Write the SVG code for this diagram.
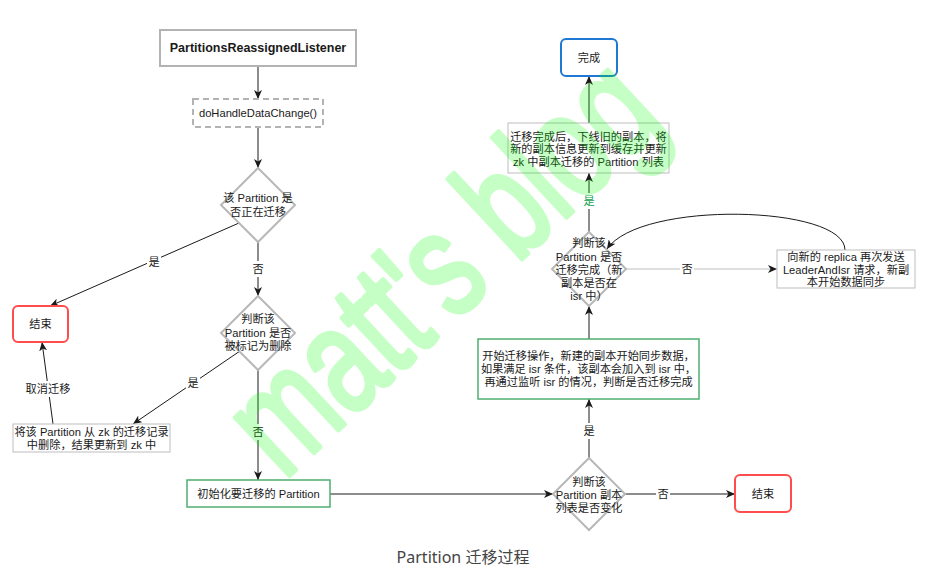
<svg xmlns="http://www.w3.org/2000/svg" width="946" height="588" viewBox="0 0 946 588">
<defs>
<style>
text{font-family:"Liberation Sans","Noto Sans CJK SC",sans-serif;font-size:11.2px;fill:#1a1a1a;text-anchor:middle;dominant-baseline:central}
.dia{fill:#fff;stroke:#b8b8b8;stroke-width:2}
.gbox{fill:#fff;stroke:#bdbdbd;stroke-width:1}
.green{fill:#fff;stroke:#4fae72;stroke-width:1.5}
.red{fill:#fff;stroke:#ff4c4c;stroke-width:2}
.blue{fill:#fff;stroke:#1f78d1;stroke-width:2}
.edge{fill:none;stroke:#1a1a1a;stroke-width:1;marker-end:url(#arr)}
.lbg{fill:#fff}
</style>
<marker id="arr" viewBox="0 0 10 8" refX="9" refY="4" markerWidth="10" markerHeight="8" markerUnits="userSpaceOnUse" orient="auto">
<path d="M0,0 L9,4 L0,8 L2.5,4 Z" fill="#1a1a1a"/>
</marker>
</defs>
<rect width="946" height="588" fill="#fff"/>

<g id="connectors">
<path class="edge" d="M258,66 L258,99"/>
<path class="edge" d="M258,127 L258,168"/>
<path class="edge" d="M258,242 L258,296"/>
<path class="edge" d="M239,223 L50,306"/>
<path class="edge" d="M240,351 L133,424"/>
<path class="edge" d="M258,370 L258,480"/>
<path class="edge" d="M53,424 L42,342"/>
<path class="edge" d="M330,494 L553,494"/>
<path class="edge" d="M625,494 L735,494"/>
<path class="edge" d="M589,458 L589,399"/>
<path class="edge" d="M589,339 L589,306"/>
<path class="edge" d="M626,269 L777,269" style="stroke:#bdbdbd"/>
<path class="edge" d="M845,250 C845,205 640,200 607,249"/>
<path class="edge" d="M589,232 L589,173"/>
<path class="edge" d="M589,123 L589,76"/>
<rect class="lbg" x="251" y="261" width="14" height="16"/><text x="258" y="269">否</text>
<rect class="lbg" x="147" y="254" width="14" height="16"/><text x="154" y="262">是</text>
<rect class="lbg" x="186" y="375" width="14" height="16"/><text x="193" y="383">是</text>
<rect class="lbg" x="251" y="424" width="14" height="16"/><text x="258" y="432">否</text>
<rect class="lbg" x="24" y="381" width="48" height="16"/><text x="48" y="389">取消迁移</text>
<rect class="lbg" x="656" y="486" width="14" height="16"/><text x="663" y="494">否</text>
<rect class="lbg" x="582" y="423" width="14" height="16"/><text x="589" y="431">是</text>
<rect class="lbg" x="680" y="261" width="14" height="16"/><text x="687" y="269">否</text>
<rect class="lbg" x="582" y="193" width="14" height="16"/><text x="589" y="201" style="fill:#12a150">是</text>
</g>

<g id="n-listener"><rect x="160" y="30" width="196" height="36" style="fill:#fff;stroke:#b3b3b3;stroke-width:2"/><text x="258" y="48" style="font-weight:bold;font-size:12.5px">PartitionsReassignedListener</text></g>
<g id="n-dohandle"><rect x="193" y="99" width="130" height="28" style="fill:#fff;stroke:#b3b3b3;stroke-width:2;stroke-dasharray:6 4"/><text x="258" y="113">doHandleDataChange()</text></g>
<g id="n-d1"><polygon class="dia" points="258,168 295,205 258,242 221,205"/><text x="258" y="198">该 Partition 是</text><text x="258" y="212">否正在迁移</text></g>
<g id="n-d2"><polygon class="dia" points="258,296 295,333 258,370 221,333"/><text x="258" y="319">判断该</text><text x="258" y="333">Partition 是否</text><text x="258" y="346">被标记为删除</text></g>
<g id="n-end1"><rect class="red" x="13" y="306" width="55" height="36" rx="5"/><text x="40.5" y="324">结束</text></g>
<g id="n-delete"><rect class="gbox" x="13" y="424" width="157" height="28"/><text x="91.5" y="432">将该 Partition 从 zk 的迁移记录</text><text x="91.5" y="445">中删除，结果更新到 zk 中</text></g>
<g id="n-init"><rect class="green" x="187" y="480" width="143" height="27"/><text x="258.5" y="494">初始化要迁移的 Partition</text></g>
<g id="n-d3"><polygon class="dia" points="589,458 625,494 589,530 553,494"/><text x="589" y="482">判断该</text><text x="589" y="495">Partition 副本</text><text x="589" y="508">列表是否变化</text></g>
<g id="n-end2"><rect class="red" x="735" y="475" width="56" height="37" rx="5"/><text x="763" y="494">结束</text></g>
<g id="n-start"><rect class="green" x="478" y="339" width="221" height="60"/><text x="588.5" y="356">开始迁移操作，新建的副本开始同步数据，</text><text x="588.5" y="369">如果满足 isr 条件，该副本会加入到 isr 中，</text><text x="588.5" y="382">再通过监听 isr 的情况，判断是否迁移完成</text></g>
<g id="n-d4"><polygon class="dia" points="589,232 626,269 589,306 552,269"/><text x="589" y="243">判断该</text><text x="589" y="257">Partition 是否</text><text x="589" y="270">迁移完成（新</text><text x="589" y="283">副本是否在</text><text x="589" y="296">isr 中）</text></g>
<g id="n-resend"><rect class="gbox" x="777" y="250" width="138" height="38"/><text x="846" y="257">向新的 replica 再次发送</text><text x="846" y="270">LeaderAndIsr 请求，新副</text><text x="846" y="282">本开始数据同步</text></g>
<g id="n-done"><rect class="gbox" x="508" y="123" width="161" height="50"/><text x="588.5" y="137">迁移完成后，下线旧的副本，将</text><text x="588.5" y="149">新的副本信息更新到缓存并更新</text><text x="588.5" y="162">zk 中副本迁移的 Partition 列表</text></g>
<g id="n-complete"><rect class="blue" x="561" y="39" width="56" height="37" rx="5"/><text x="589" y="58">完成</text></g>

<text x="463" y="557" style="font-family:'Noto Sans','Noto Sans CJK SC',sans-serif;font-size:16px;fill:#444">Partition 迁移过程</text>

<g id="watermark" opacity="0.22">
<text transform="translate(440,264) rotate(-43)" x="0" y="0" textLength="525" lengthAdjust="spacingAndGlyphs" style="font-size:150px;fill:#00ff00;stroke:#00ff00;stroke-width:5;stroke-linejoin:round;dominant-baseline:central">matt's blog</text>
</g>
</svg>
